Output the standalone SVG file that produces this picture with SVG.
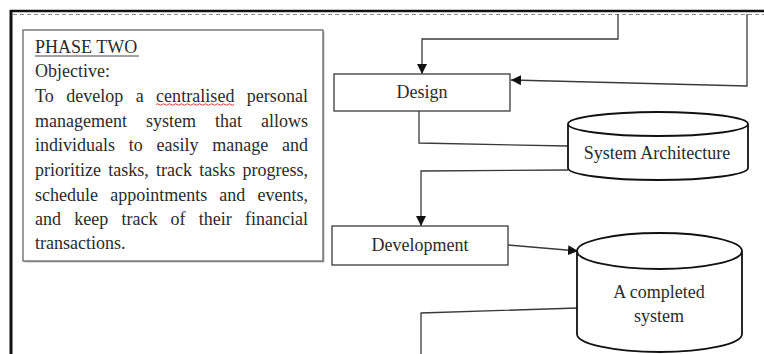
<svg xmlns="http://www.w3.org/2000/svg" width="764" height="354" viewBox="0 0 764 354">
<style>
.t{font-family:"Liberation Serif","Times New Roman",serif;font-size:18px;fill:#2b2b2b;font-variant-ligatures:none}
.box{fill:#fff;stroke:#3a3a3a;stroke-width:1.3}
.ln{fill:none;stroke:#3a3a3a;stroke-width:1.3}
.cyl{fill:#fff;stroke:#111;stroke-width:1.8}
</style>
<defs>
<marker id="ah" viewBox="0 0 10 10" refX="10" refY="5" markerWidth="10" markerHeight="10" markerUnits="userSpaceOnUse" orient="auto">
<path d="M0,0 L10,5 L0,10 Z" fill="#111"/>
</marker>
</defs>
<rect width="764" height="354" fill="#fff"/>
<g id="frame">
<line x1="10" y1="11" x2="764" y2="11" stroke="#111" stroke-width="2.5"/>
<line x1="11" y1="10" x2="11" y2="354" stroke="#111" stroke-width="3"/>
<line x1="13" y1="14.5" x2="764" y2="14.5" stroke="#888" stroke-width="1" stroke-dasharray="4,3"/>
</g>
<g id="objective">
<rect x="24.5" y="31.5" width="300" height="231" fill="#bbb"/>
<rect x="23" y="30" width="300" height="231" fill="#fff" stroke="#666" stroke-width="1.3"/>
<text class="t" x="35" y="53">PHASE TWO</text>
<line x1="35" y1="56" x2="139" y2="56" stroke="#444" stroke-width="1"/>
<text class="t" x="35" y="77">Objective:</text>
<text class="t" x="35" y="102" word-spacing="7.8" textLength="273" lengthAdjust="spacing">To develop a centralised personal</text>
<path d="M156,104.5 q1.5,-1.5 3,0 t3,0 t3,0 t3,0 t3,0 t3,0 t3,0 t3,0 t3,0 t3,0 t3,0 t3,0 t3,0 t3,0 t3,0 t3,0 t3,0 t3,0 t3,0 t3,0 t3,0 t3,0 t3,0 t3,0 t3,0 t3,0" fill="none" stroke="#e33" stroke-width="1"/>
<text class="t" x="35" y="127" word-spacing="14.5" textLength="273" lengthAdjust="spacing">management system that allows</text>
<text class="t" x="35" y="151" word-spacing="9.2" textLength="273" lengthAdjust="spacing">individuals to easily manage and</text>
<text class="t" x="35" y="176" word-spacing="2.7" textLength="273" lengthAdjust="spacing">prioritize tasks, track tasks progress,</text>
<text class="t" x="35" y="201" word-spacing="7.7" textLength="273" lengthAdjust="spacing">schedule appointments and events,</text>
<text class="t" x="35" y="225" word-spacing="8.7" textLength="273" lengthAdjust="spacing">and keep track of their financial</text>
<text class="t" x="35" y="249">transactions.</text>
</g>
<g id="connectors">
<path class="ln" d="M618,14 V39 H422 V74" marker-end="url(#ah)"/>
<path class="ln" d="M747,14 V86 L511,80" marker-end="url(#ah)"/>
<path class="ln" d="M419,111 V143 L568,146"/>
<path class="ln" d="M568,170 L421,171 V226" marker-end="url(#ah)"/>
<path class="ln" d="M508,245 L578,251" marker-end="url(#ah)"/>
<path class="ln" d="M578,308 L421,313 V354"/>
</g>
<g id="design">
<rect class="box" x="334" y="74" width="176" height="37"/>
<text class="t" x="422" y="97.5" text-anchor="middle">Design</text>
</g>
<g id="system-architecture">
<path class="cyl" d="M568,124 A90,12 0 0 1 748,124 V168 A90,12 0 0 1 568,168 Z M568,124 A90,12 0 0 0 748,124"/>
<text class="t" x="657" y="159" text-anchor="middle">System Architecture</text>
</g>
<g id="development">
<rect class="box" x="332" y="226" width="176" height="39"/>
<text class="t" x="420" y="251" text-anchor="middle">Development</text>
</g>
<g id="completed-system">
<path class="cyl" d="M577,251 A82.5,18 0 0 1 742,251 V334 A82.5,18 0 0 1 577,334 Z M577,251 A82.5,18 0 0 0 742,251"/>
<text class="t" x="659" y="298" text-anchor="middle">A completed</text>
<text class="t" x="659" y="322" text-anchor="middle">system</text>
</g>
</svg>
